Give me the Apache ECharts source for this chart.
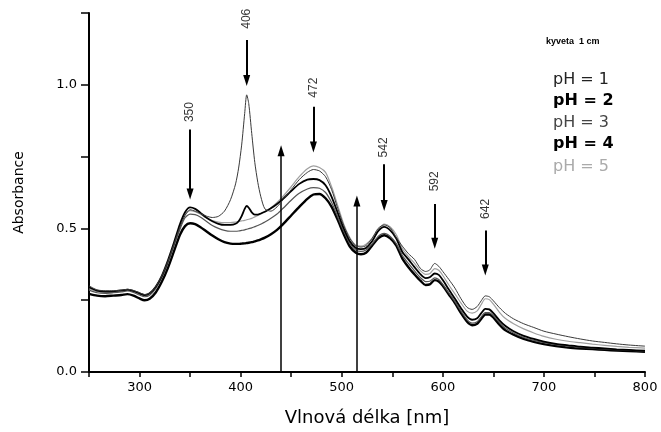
<!DOCTYPE html>
<html>
<head>
<meta charset="utf-8">
<title>Absorpční spektra</title>
<script src="https://cdn.jsdelivr.net/npm/echarts@6/dist/echarts.min.js"></script>
<style>
  html, body { margin: 0; padding: 0; background: #fff; }
  #chart { width: 661px; height: 432px; }
</style>
</head>
<body>
<div id="chart"></div>
<script>
// Wavelengths (nm) shared by all spectra
const wavelengths = [250, 258, 266, 274, 282, 288, 294, 300, 305, 310, 316, 322, 328, 334, 340, 345,
  350, 355, 360, 366, 372, 378, 384, 390, 395, 398, 401, 404, 406, 408, 411, 414, 417, 420, 424,
  430, 436, 442, 450, 458, 466, 472, 478, 484, 490, 496, 502, 508, 514, 519, 524, 530, 536, 542,
  548, 554, 560, 566, 572, 578, 583, 587, 592, 596, 600, 606, 612, 618, 624, 629, 634, 638, 642,
  646, 650, 656, 662, 670, 680, 690, 700, 712, 724, 736, 748, 760, 772, 784, 800];

// Absorbance at each wavelength, one array per pH
const absPH1 = [.300, .286, .283, .283, .285, .288, .284, .276, .270, .275, .298, .335, .385, .445, .505, .545,
  .565, .560, .552, .543, .538, .542, .560, .600, .655, .710, .790, .900, .965, .935, .830, .730, .660, .610, .568,
  .560, .575, .600, .635, .670, .695, .705, .700, .680, .635, .570, .510, .465, .440, .435, .440, .465, .500, .512,
  .502, .468, .438, .412, .392, .360, .350, .355, .378, .368, .350, .322, .292, .255, .225, .218, .228, .248, .265,
  .262, .248, .224, .204, .185, .168, .155, .142, .132, .123, .115, .108, .103, .098, .094, .090];

const absPH2 = [.295, .283, .280, .281, .284, .287, .282, .274, .268, .274, .297, .335, .388, .450, .515, .556,
  .573, .568, .555, .538, .525, .516, .512, .512, .516, .525, .543, .568, .578, .572, .556, .548, .548, .552, .558,
  .570, .585, .603, .630, .655, .670, .672, .668, .650, .610, .555, .500, .455, .432, .428, .432, .455, .490, .505,
  .493, .465, .418, .392, .365, .340, .327, .330, .343, .338, .320, .287, .255, .222, .193, .182, .187, .205, .220,
  .218, .205, .180, .160, .142, .126, .115, .106, .098, .093, .088, .085, .082, .079, .077, .074];

const absPH3 = [.285, .276, .274, .276, .279, .282, .277, .268, .262, .267, .290, .327, .377, .437, .497, .537,
  .550, .548, .540, .525, .510, .500, .493, .490, .490, .491, .493, .495, .497, .499, .502, .506, .510, .515, .522,
  .535, .550, .570, .598, .622, .637, .642, .640, .625, .590, .540, .490, .448, .424, .420, .425, .445, .472, .483,
  .472, .447, .405, .378, .352, .328, .315, .316, .328, .322, .305, .275, .245, .212, .182, .170, .175, .192, .207,
  .207, .196, .172, .152, .136, .120, .110, .102, .095, .090, .086, .083, .080, .078, .076, .073];

const absPH4 = [.272, .266, .264, .266, .268, .271, .266, .256, .250, .255, .277, .314, .362, .420, .478, .508,
  .518, .515, .505, .490, .475, .462, .452, .447, .446, .446, .447, .448, .449, .450, .452, .455, .458, .462, .468,
  .480, .495, .515, .545, .575, .603, .618, .620, .605, .575, .530, .480, .437, .415, .410, .415, .440, .465, .476,
  .465, .440, .395, .365, .340, .317, .303, .305, .320, .315, .300, .270, .240, .205, .175, .163, .168, .185, .200,
  .200, .190, .165, .145, .130, .115, .105, .097, .090, .085, .082, .080, .077, .075, .073, .070];

const absPH5 = [.290, .280, .278, .279, .282, .285, .280, .272, .266, .272, .295, .332, .383, .443, .505, .548,
  .562, .558, .550, .537, .527, .522, .520, .520, .522, .524, .526, .528, .530, .532, .535, .540, .545, .550, .558,
  .572, .590, .612, .645, .680, .708, .718, .712, .695, .645, .580, .515, .468, .440, .438, .445, .465, .495, .515,
  .505, .478, .430, .402, .378, .352, .340, .342, .360, .354, .336, .303, .272, .240, .212, .205, .213, .235, .255,
  .252, .236, .208, .186, .168, .150, .136, .124, .114, .107, .102, .097, .093, .089, .086, .083];

const seriesNames = ['pH = 1', 'pH = 2', 'pH = 3', 'pH = 4', 'pH = 5'];

// Marked band positions (nm) and the span of each downward arrow (absorbance)
const bandPeaks = [350, 406, 472, 542, 592, 642];
const bandArrowTop = [0.844, 1.156, 0.924, 0.723, 0.585, 0.493];
const bandArrowTip = [0.620, 1.015, 0.783, 0.580, 0.448, 0.355];
const bandLabelY = [0.905, 1.230, 0.990, 0.782, 0.664, 0.568];

// Upward arrows rising from the baseline
const riseAt = [440, 515];
const riseTip = [0.770, 0.595];

const FONT = 'DejaVu Sans, Verdana, sans-serif';

const chart = echarts.init(document.getElementById('chart'), null, { renderer: 'canvas' });

const lineStyles = [
  { color: '#3a3a3a', width: 1.0 },
  { color: '#000000', width: 1.8 },
  { color: '#555555', width: 1.2 },
  { color: '#000000', width: 2.4 },
  { color: '#a0a0a0', width: 1.2 }
];
const spectra = [absPH1, absPH2, absPH3, absPH4, absPH5];

const lineSeries = spectra.map((vals, i) => ({
  name: seriesNames[i],
  type: 'line',
  data: wavelengths.map((w, k) => [w, vals[k]]),
  showSymbol: false,
  smooth: 0.25,
  lineStyle: lineStyles[i],
  z: 5 - i,
  animation: false
}));

const arrowLines = bandPeaks.map((w, i) => [
  { coord: [w, bandArrowTop[i]], lineStyle: { width: 2 } },
  { coord: [w, bandArrowTip[i]] }
]).concat(riseAt.map((w, i) => [
  { coord: [w, 0], lineStyle: { width: 1.5 } },
  { coord: [w, riseTip[i]] }
]));

const annotationSeries = {
  name: 'bands',
  type: 'scatter',
  symbolSize: 0,
  data: bandPeaks.map((w, i) => [w, bandLabelY[i], String(w)]),
  label: {
    show: true,
    position: 'inside',
    rotate: 90,
    formatter: p => p.value[2],
    color: '#000',
    fontSize: 12,
    fontFamily: 'Liberation Sans, Arial, sans-serif'
  },
  markLine: {
    silent: true,
    symbol: ['none', 'triangle'],
    symbolSize: [7, 11],
    label: { show: false },
    lineStyle: { color: '#000', type: 'solid', width: 2 },
    data: arrowLines,
    animation: false
  },
  animation: false,
  z: 10
};

const legendLines = [
  { text: 'kyveta  1 cm', y: 42, font: 'bold 9px Liberation Sans, Arial, sans-serif', fill: '#000' },
  { text: 'pH = 1', y: 81, font: '16px ' + FONT, fill: '#222' },
  { text: 'pH = 2', y: 102, font: 'bold 16px ' + FONT, fill: '#000' },
  { text: 'pH = 3', y: 124, font: '16px ' + FONT, fill: '#444' },
  { text: 'pH = 4', y: 145, font: 'bold 16px ' + FONT, fill: '#000' },
  { text: 'pH = 5', y: 168, font: '16px ' + FONT, fill: '#aaa' }
];

chart.setOption({
  backgroundColor: '#fff',
  animation: false,
  grid: { left: 89, right: 16, top: 13, bottom: 58, containLabel: false },
  xAxis: {
    type: 'value',
    min: 250,
    max: 800,
    interval: 50,
    name: 'Vlnová délka [nm]',
    nameLocation: 'middle',
    nameGap: 37,
    nameTextStyle: { color: '#000', fontSize: 18, fontFamily: FONT },
    axisLine: { lineStyle: { color: '#000', width: 2 } },
    axisTick: { show: true, inside: false, length: 5, lineStyle: { color: '#000', width: 1.5 } },
    axisLabel: {
      color: '#000', fontSize: 13, margin: 9,
      fontFamily: FONT,
      formatter: v => (v % 100 === 0 ? String(v) : '')
    },
    splitLine: { show: false }
  },
  yAxis: {
    type: 'value',
    min: 0,
    max: 1.25,
    interval: 0.25,
    name: 'Absorbance',
    nameLocation: 'middle',
    nameGap: 63,
    nameTextStyle: { color: '#000', fontSize: 14, fontFamily: FONT },
    axisLine: { show: true, lineStyle: { color: '#000', width: 2 } },
    axisTick: { show: true, inside: false, length: 8, lineStyle: { color: '#000', width: 1.5 } },
    axisLabel: {
      color: '#000', fontSize: 13, margin: 12,
      fontFamily: FONT,
      formatter: v => (Math.abs(v * 2 - Math.round(v * 2)) < 1e-6 ? v.toFixed(1) : '')
    },
    splitLine: { show: false }
  },
  series: lineSeries.concat([annotationSeries]),
  graphic: legendLines.map(l => ({
    type: 'text',
    left: l.text.startsWith('kyveta') ? 546 : 553,
    top: l.y - (l.text.startsWith('kyveta') ? 5 : 9),
    silent: true,
    style: { text: l.text, font: l.font, fill: l.fill }
  }))
});
</script>
</body>
</html>
